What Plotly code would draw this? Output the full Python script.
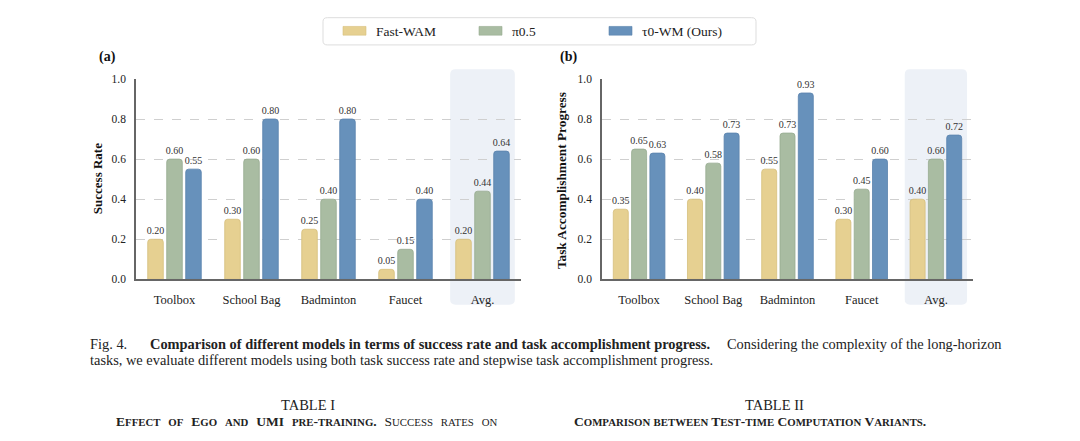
import plotly.graph_objects as go

# ---------------- data ----------------
categories = ["Toolbox", "School Bag", "Badminton", "Faucet", "Avg."]
models = ["Fast-WAM", "π0.5", "τ0-WM (Ours)"]

success_fastwam = [0.20, 0.30, 0.25, 0.05, 0.20]
success_pi05 = [0.60, 0.60, 0.40, 0.15, 0.44]
success_tau0 = [0.55, 0.80, 0.80, 0.40, 0.64]

progress_fastwam = [0.35, 0.40, 0.55, 0.30, 0.40]
progress_pi05 = [0.65, 0.58, 0.73, 0.45, 0.60]
progress_tau0 = [0.63, 0.73, 0.93, 0.60, 0.72]

y_ticks = [0.0, 0.2, 0.4, 0.6, 0.8, 1.0]

# ---------------- style ----------------
W, H = 1080, 441
FONT = "Liberation Serif, Times New Roman, serif"
fills = ["#E6D091", "#A9BCA2", "#6791BB"]
edges = ["#D6BF7C", "#97AB90", "#5A83AD"]
TXT = "#222222"


def px(p):
    return p / W


def py(p):
    return 1 - p / H


fig = go.Figure()

left_series = [success_fastwam, success_pi05, success_tau0]
right_series = [progress_fastwam, progress_pi05, progress_tau0]

for i, name in enumerate(models):
    for series, xa, ya in ((left_series, "x", "y"), (right_series, "x2", "y2")):
        vals = series[i]
        fig.add_trace(go.Bar(
            x=categories, y=vals, name=name, xaxis=xa, yaxis=ya,
            marker=dict(color=fills[i], line=dict(color=edges[i], width=0.8),
                        cornerradius=3),
            text=[f"{v:.2f}" for v in vals], textposition="outside",
            constraintext="none", cliponaxis=False,
            textfont=dict(family=FONT, size=10, color="#333333"),
            showlegend=False, hoverinfo="skip",
        ))

axis_common_x = dict(
    type="category", range=[-0.5, 4.5], showline=True, linecolor="#666666",
    linewidth=1.6, showgrid=False, zeroline=False, ticks="outside", ticklen=8,
    tickcolor="rgba(0,0,0,0)", tickfont=dict(family=FONT, size=12.5, color=TXT),
    fixedrange=True,
)
axis_common_y = dict(
    range=[0, 1.0], tickvals=y_ticks, ticktext=[f"{t:.1f}" for t in y_ticks],
    showline=True, linecolor="#666666", linewidth=1.6, showgrid=True,
    gridcolor="#CFCFCF", griddash="dash", gridwidth=1, zeroline=False,
    ticks="outside", ticklen=6, tickcolor="rgba(0,0,0,0)",
    tickfont=dict(family=FONT, size=11.5, color=TXT), fixedrange=True,
)

fig.update_layout(
    width=W, height=H, margin=dict(l=0, r=0, t=0, b=0),
    paper_bgcolor="white", plot_bgcolor="rgba(0,0,0,0)",
    barmode="group", bargap=0.26, bargroupgap=0.18,
    showlegend=False,
    xaxis=dict(domain=[px(136), px(521)], anchor="y", **axis_common_x),
    yaxis=dict(domain=[py(281), py(75)], anchor="x", **axis_common_y),
    xaxis2=dict(domain=[px(602), px(973)], anchor="y2", **axis_common_x),
    yaxis2=dict(domain=[py(281), py(75)], anchor="x2", **axis_common_y),
)


# highlight "Avg." columns (rounded rectangles, behind bars)
def rounded_path(x0, x1, y0, y1, rx, ry):
    return (f"M {x0+rx},{y0} L {x1-rx},{y0} Q {x1},{y0} {x1},{y0+ry} "
            f"L {x1},{y1-ry} Q {x1},{y1} {x1-rx},{y1} L {x0+rx},{y1} "
            f"Q {x0},{y1} {x0},{y1-ry} L {x0},{y0+ry} Q {x0},{y0} {x0+rx},{y0} Z")


avg_idx = categories.index("Avg.")
for xr in ("x", "x2"):
    fig.add_shape(type="path", xref=xr, yref="paper", layer="below",
                  path=rounded_path(avg_idx - 0.42, avg_idx + 0.42, py(307), py(65), 0.07, 0.012),
                  fillcolor="#EDF1F7", line=dict(width=0))

# legend box (manual)
fig.add_shape(type="path", xref="paper", yref="paper",
              path=rounded_path(px(323), px(756), py(40), py(12), 0.004, 0.009),
              fillcolor="white", line=dict(color="#DDDDDD", width=1))
legend_x = [343, 479, 609]
for i, name in enumerate(models):
    fig.add_shape(type="rect", xref="paper", yref="paper",
                  x0=px(legend_x[i]), x1=px(legend_x[i] + 23), y0=py(30), y1=py(21),
                  fillcolor=fills[i], line=dict(color=edges[i], width=0.6))
    fig.add_annotation(x=px(legend_x[i] + 31), y=py(26), xref="paper", yref="paper",
                       text=name, showarrow=False, xanchor="left", yanchor="middle",
                       font=dict(family=FONT, size=13.5, color=TXT))

# panel labels
fig.add_annotation(x=px(97), y=py(52), xref="paper", yref="paper", text="<b>(a)</b>",
                   showarrow=False, xanchor="left", yanchor="middle",
                   font=dict(family=FONT, size=14, color="#111111"))
fig.add_annotation(x=px(558), y=py(52), xref="paper", yref="paper", text="<b>(b)</b>",
                   showarrow=False, xanchor="left", yanchor="middle",
                   font=dict(family=FONT, size=14, color="#111111"))

# y-axis titles
fig.add_annotation(x=px(97), y=py(178), xref="paper", yref="paper", text="<b>Success Rate</b>",
                   showarrow=False, textangle=-90, xanchor="center", yanchor="middle",
                   font=dict(family=FONT, size=13, color="#111111"))
fig.add_annotation(x=px(561), y=py(180), xref="paper", yref="paper",
                   text="<b>Task Accomplishment Progress</b>",
                   showarrow=False, textangle=-90, xanchor="center", yanchor="middle",
                   font=dict(family=FONT, size=13.3, color="#111111"))

# caption
cap_font = dict(family=FONT, size=14.4, color=TXT)
fig.add_annotation(x=px(88), y=py(347), xref="paper", yref="paper", text="Fig. 4.",
                   showarrow=False, xanchor="left", yanchor="middle", font=cap_font)
fig.add_annotation(x=px(148), y=py(347), xref="paper", yref="paper",
                   text="<b>Comparison of different models in terms of success rate and task accomplishment progress.</b>",
                   showarrow=False, xanchor="left", yanchor="middle", font=cap_font)
fig.add_annotation(x=px(1004), y=py(347), xref="paper", yref="paper",
                   text="Considering the complexity of the long-horizon",
                   showarrow=False, xanchor="right", yanchor="middle", font=cap_font)
fig.add_annotation(x=px(88), y=py(364), xref="paper", yref="paper",
                   text="tasks, we evaluate different models using both task success rate and stepwise task accomplishment progress.",
                   showarrow=False, xanchor="left", yanchor="middle", font=cap_font)


def smallcaps(text, small=10.8, sep=" "):
    out = []
    for ch in text:
        if ch.isalpha() and ch.islower():
            out.append(f"<span style='font-size:{small}px'>{ch.upper()}</span>")
        elif ch == " ":
            out.append(sep)
        else:
            out.append(ch)
    return "".join(out)


WIDE = "&#8194;&#8202;"  # widened word gap to mimic the justified line
head_font = dict(family=FONT, size=14.5, color=TXT)
sub_font = dict(family=FONT, size=13.5, color=TXT)
fig.add_annotation(x=px(308), y=py(410), xref="paper", yref="paper", text="TABLE I",
                   showarrow=False, xanchor="center", yanchor="middle", font=head_font)
fig.add_annotation(x=px(307), y=py(427), xref="paper", yref="paper",
                   text="<b>" + smallcaps("Effect of Ego and UMI pre-training.", sep=WIDE) + "</b>"
                   + WIDE + smallcaps("Success rates on", sep=WIDE),
                   showarrow=False, xanchor="center", yanchor="middle", font=sub_font)
fig.add_annotation(x=px(774), y=py(410), xref="paper", yref="paper", text="TABLE II",
                   showarrow=False, xanchor="center", yanchor="middle", font=head_font)
fig.add_annotation(x=px(750), y=py(427), xref="paper", yref="paper",
                   text="<b>" + smallcaps("Comparison between Test-time Computation Variants.") + "</b>",
                   showarrow=False, xanchor="center", yanchor="middle", font=sub_font)

fig.write_html("out.html")
